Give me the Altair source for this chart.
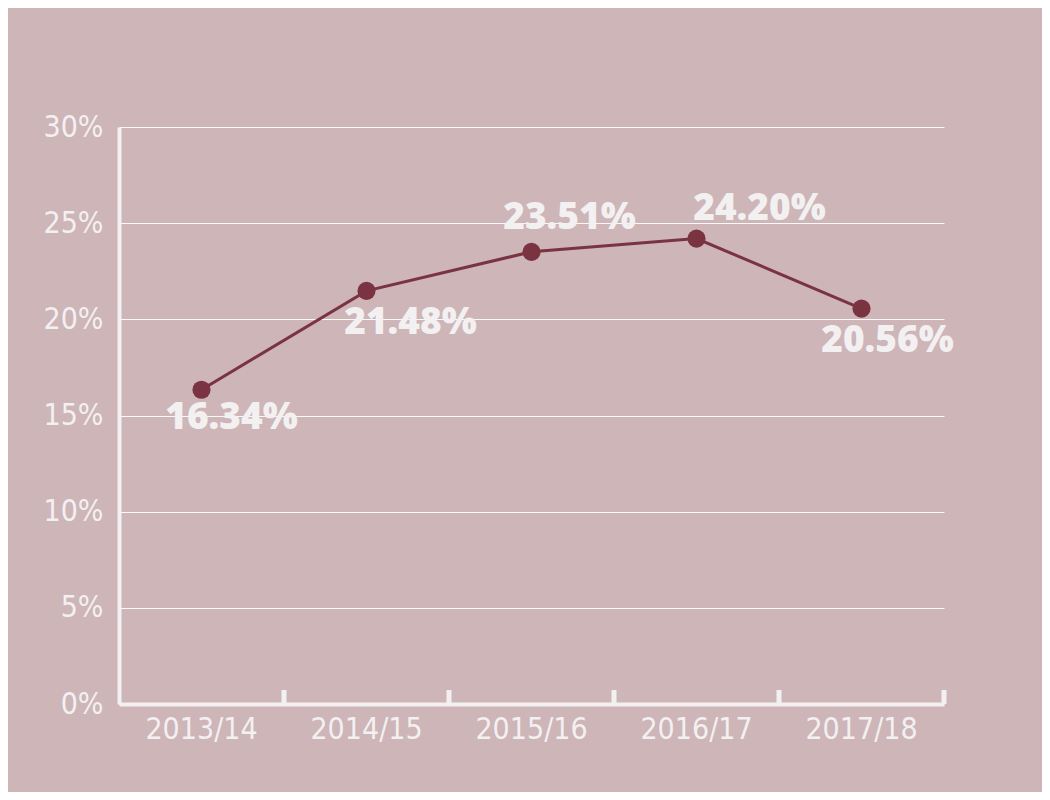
import altair as alt
import pandas as pd

years = ["2013/14", "2014/15", "2015/16", "2016/17", "2017/18"]
rates = [16.34, 21.48, 23.51, 24.20, 20.56]
y_ticks = [0, 5, 10, 15, 20, 25, 30]

df = pd.DataFrame({"year": years, "rate": rates})

BG = "#cdb5b8"
WHITE = "#f3f0f2"
LINE = "#7a3340"
AXFONT = "'DejaVu Sans Condensed', 'Liberation Sans Narrow', 'Roboto Condensed', Roboto, sans-serif"

x_enc = alt.X(
    "year:N",
    sort=years,
    scale=alt.Scale(paddingInner=0, paddingOuter=0),
    axis=alt.Axis(
        title=None,
        labelFont=AXFONT,
        labelFontSize=30,
        labelColor=WHITE,
        labelAngle=0,
        labelPadding=10,
        ticks=False,
        domainColor=WHITE,
        domainWidth=4,
        grid=False,
    ),
)
y_enc = alt.Y(
    "rate:Q",
    scale=alt.Scale(domain=[0, 30], nice=False),
    axis=alt.Axis(
        title=None,
        values=y_ticks,
        labelExpr="datum.value + '%'",
        labelFont=AXFONT,
        labelFontSize=30,
        labelColor=WHITE,
        labelPadding=16,
        ticks=False,
        domainColor=WHITE,
        domainWidth=4,
        gridColor="#ffffff",
        gridWidth=1,
        gridOpacity=0.9,
    ),
)

base = alt.Chart(df)

line = base.mark_line(color=LINE, strokeWidth=3).encode(x=x_enc, y=y_enc)
points = base.mark_circle(color=LINE, size=330, opacity=1).encode(x=x_enc, y=y_enc)

ticks = base.mark_rule(color=WHITE, strokeWidth=5).encode(
    x=alt.X("year:N", sort=years, bandPosition=1),
    y=alt.value(577),
    y2=alt.value(563),
)

offsets = {
    "2013/14": (30, 28),
    "2014/15": (44, 32),
    "2015/16": (38, -34),
    "2016/17": (63, -30),
    "2017/18": (26, 32),
}
labels = []
for yr in years:
    dx, dy = offsets[yr]
    labels.append(
        base.transform_filter(alt.datum.year == yr)
        .transform_calculate(lbl="format(datum.rate, '.2f') + '%'")
        .mark_text(
            font="Open Sans",
            fontWeight=800,
            fontSize=37,
            color=WHITE,
            dx=dx,
            dy=dy,
            align="center",
            baseline="middle",
        )
        .encode(x=alt.X("year:N", sort=years), y="rate:Q", text="lbl:N")
    )

chart = (
    alt.layer(line, points, ticks, *labels)
    .properties(
        width=825,
        height=577,
        background=BG,
        padding={"left": 111, "top": 119, "right": 98, "bottom": 88},
        autosize=alt.AutoSizeParams(type="none"),
    )
    .configure_view(stroke=None)
)

chart.save("out.html", embed_options={"renderer": "svg", "actions": False})
